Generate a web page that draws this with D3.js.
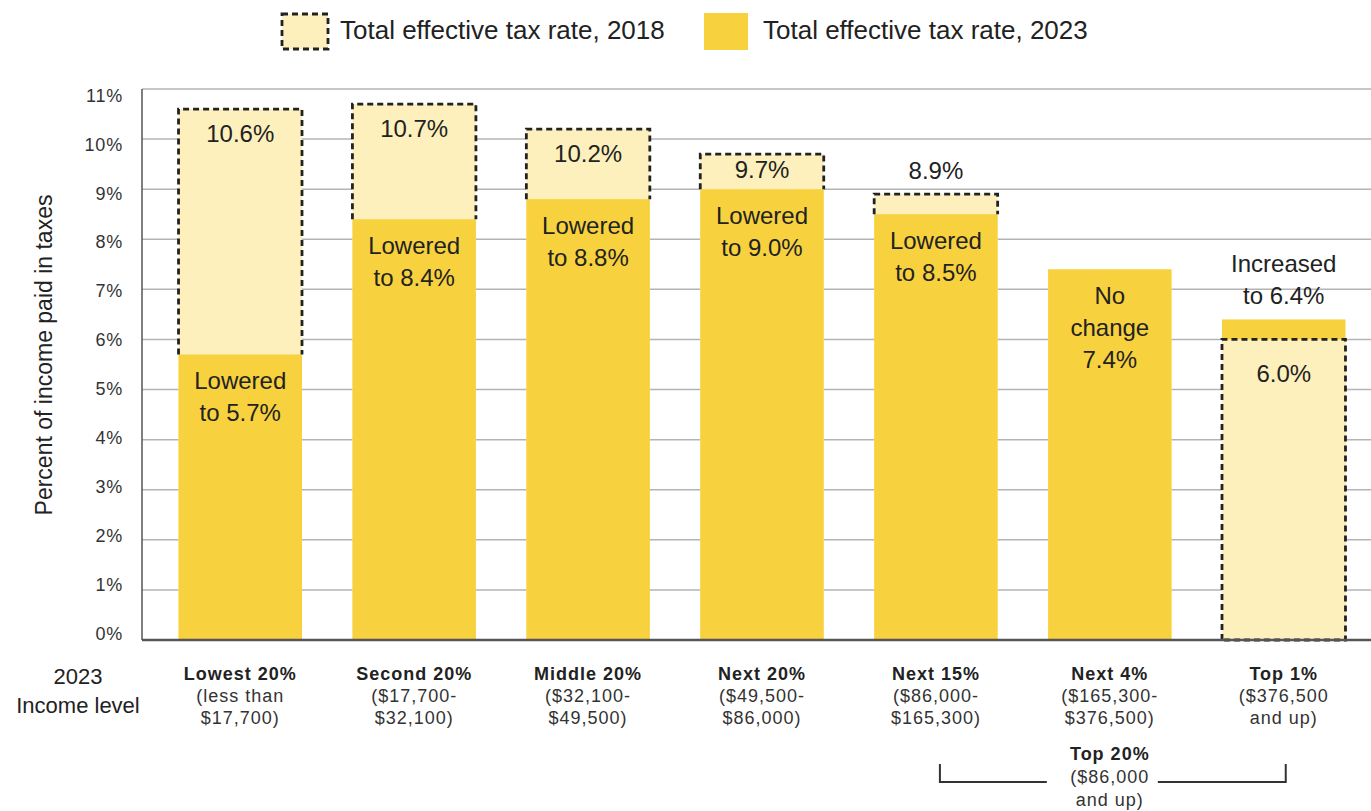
<!DOCTYPE html>
<html>
<head>
<meta charset="utf-8">
<script src="https://cdn.jsdelivr.net/npm/d3@7"></script>
<style>
  body { margin: 0; background: #fff; }
  svg { font-family: "Liberation Sans", Arial, sans-serif; display: block; }
</style>
</head>
<body>
<div id="chart"></div>
<script>
// Data
const groups = ["Lowest 20%", "Second 20%", "Middle 20%", "Next 20%", "Next 15%", "Next 4%", "Top 1%"];
const ranges = [
  ["(less than", "$17,700)"],
  ["($17,700-", "$32,100)"],
  ["($32,100-", "$49,500)"],
  ["($49,500-", "$86,000)"],
  ["($86,000-", "$165,300)"],
  ["($165,300-", "$376,500)"],
  ["($376,500", "and up)"]
];
const rate2018 = [10.6, 10.7, 10.2, 9.7, 8.9, 7.4, 6.0];
const rate2023 = [5.7, 8.4, 8.8, 9.0, 8.5, 7.4, 6.4];
const yTicks = [0, 1, 2, 3, 4, 5, 6, 7, 8, 9, 10, 11];
const bracketGroups = ["Next 15%", "Top 1%"];
const bracketLabel = ["Top 20%", "($86,000", "and up)"];

const data = groups.map((g, i) => ({ group: g, range: ranges[i], v18: rate2018[i], v23: rate2023[i] }));

// Dimensions
const width = 1371;
const height = 811;
const dark = "#f8d23e";
const light = "#fdf0bc";
const ink = "#222";

const svg = d3.select("#chart")
  .append("svg")
    .attr("width", width)
    .attr("height", height);

const x = d3.scaleBand()
  .domain(groups)
  .range([142, 1382])
  .paddingInner(0.29)
  .paddingOuter(0.21);

const y = d3.scaleLinear()
  .domain([0, 11])
  .range([640, 89]);

// tick labels sit on a slightly tighter scale in the original
const yLabel = d3.scaleLinear()
  .domain([0, 11])
  .range([635, 97]);

// Gridlines
svg.append("g")
  .selectAll("line")
  .data(yTicks.filter(t => t > 0))
  .join("line")
    .attr("x1", 142)
    .attr("x2", width)
    .attr("y1", d => y(d))
    .attr("y2", d => y(d))
    .attr("stroke", "#b4b4b4")
    .attr("stroke-width", 1.5);

// Tick labels
svg.append("g")
  .attr("fill", "#333")
  .attr("font-size", 18)
  .attr("letter-spacing", 0.8)
  .attr("text-anchor", "end")
  .attr("dominant-baseline", "middle")
  .selectAll("text")
  .data(yTicks)
  .join("text")
    .attr("x", 123)
    .attr("y", d => yLabel(d))
    .text(d => d + "%");

svg.append("text")
  .attr("transform", `translate(46, 355) rotate(-90)`)
  .attr("text-anchor", "middle")
  .attr("dominant-baseline", "middle")
  .attr("font-size", 23)
  .attr("fill", ink)
  .text("Percent of income paid in taxes");

// Bars: larger value behind, smaller in front
const bars = svg.append("g")
  .selectAll("g")
  .data(data)
  .join("g");

const back = d => d.v18 >= d.v23 ? { v: d.v18, fill: light } : { v: d.v23, fill: dark };
const front = d => d.v18 >= d.v23 ? { v: d.v23, fill: dark } : { v: d.v18, fill: light };

bars.append("rect")
  .attr("x", d => x(d.group))
  .attr("width", x.bandwidth())
  .attr("y", d => y(back(d).v))
  .attr("height", d => y(0) - y(back(d).v))
  .attr("fill", d => back(d).fill);

bars.append("rect")
  .attr("x", d => x(d.group))
  .attr("width", x.bandwidth())
  .attr("y", d => y(front(d).v))
  .attr("height", d => y(0) - y(front(d).v))
  .attr("fill", d => front(d).fill);

// Dashed outline of 2018 bar
bars.filter(d => d.v18 !== d.v23)
  .append("path")
    .attr("d", d => {
      const x0 = x(d.group), x1 = x0 + x.bandwidth();
      const top = y(d.v18);
      const bottom = d.v18 > d.v23 ? y(d.v23) : y(0);
      return d.v18 > d.v23
        ? `M${x0},${bottom}V${top}H${x1}V${bottom}`
        : `M${x0},${bottom}V${top}H${x1}V${bottom}Z`;
    })
    .attr("fill", "none")
    .attr("stroke", ink)
    .attr("stroke-width", 2.8)
    .attr("stroke-dasharray", "6 4");

// Bar labels
const label2023 = d => {
  const v = d.v23.toFixed(1) + "%";
  if (d.v23 < d.v18) return ["Lowered", "to " + v];
  if (d.v23 === d.v18) return ["No", "change", v];
  return ["Increased", "to " + v];
};
const label2018 = d => [d.v18.toFixed(1) + "%"];
const lineH = 32;

bars.each(function(d) {
  const g = d3.select(this);
  const cx = x(d.group) + x.bandwidth() / 2;
  const is18Back = d.v18 > d.v23;
  const equal = d.v18 === d.v23;
  const frontLines = is18Back || equal ? label2023(d) : label2018(d);
  const backLines = is18Back ? label2018(d) : label2023(d);
  const yFront = y(Math.min(d.v18, d.v23));
  const yBack = y(Math.max(d.v18, d.v23));

  const put = (lines, y0) => {
    lines.forEach((t, i) => {
      g.append("text")
        .attr("x", cx)
        .attr("y", y0 + i * lineH)
        .attr("text-anchor", "middle")
        .attr("dominant-baseline", "middle")
        .attr("font-size", 24)
        .attr("fill", ink)
        .text(t);
    });
  };

  put(frontLines, yFront + (is18Back || equal ? 28 : 36));
  if (equal) return;
  const gap = yFront - yBack;
  if (gap > 30) {
    put(backLines, Math.min(yBack + 27, (yBack + yFront) / 2));
  } else {
    put(backLines, yBack - 22 - (backLines.length - 1) * lineH);
  }
});

// Frame
svg.append("line")
  .attr("x1", 142).attr("x2", 142)
  .attr("y1", y(11)).attr("y2", y(0))
  .attr("stroke", "#555").attr("stroke-width", 1.5);
svg.append("line")
  .attr("x1", 142).attr("x2", width)
  .attr("y1", y(0)).attr("y2", y(0))
  .attr("stroke", "#555").attr("stroke-width", 2.5);

// Category labels
const cats = svg.append("g")
  .attr("text-anchor", "middle")
  .attr("letter-spacing", 1)
  .selectAll("g")
  .data(data)
  .join("g")
    .attr("transform", d => `translate(${x(d.group) + x.bandwidth() / 2}, 0)`);
cats.append("text")
  .attr("y", 675)
  .attr("dominant-baseline", "middle")
  .attr("font-size", 18)
  .attr("font-weight", "bold")
  .attr("fill", ink)
  .text(d => d.group);
cats.each(function(d) {
  d3.select(this).selectAll(".rng")
    .data(d.range)
    .join("text")
      .attr("class", "rng")
      .attr("y", (t, i) => 697 + i * 22)
      .attr("dominant-baseline", "middle")
      .attr("font-size", 18)
      .attr("fill", "#333")
      .text(t => t);
});

svg.append("g")
  .attr("text-anchor", "middle")
  .attr("font-size", 22)
  .attr("fill", ink)
  .selectAll("text")
  .data(["2023", "Income level"])
  .join("text")
    .attr("x", 78)
    .attr("y", (t, i) => 678 + i * 29)
    .attr("dominant-baseline", "middle")
    .text(t => t);

// Top 20% bracket
const bx0 = x(bracketGroups[0]) + x.bandwidth() / 2 + 4;
const bx1 = x(bracketGroups[1]) + x.bandwidth() / 2 + 2;
const bmid = x("Next 4%") + x.bandwidth() / 2;
const bracket = svg.append("g")
  .attr("fill", "none")
  .attr("stroke", "#333")
  .attr("stroke-width", 2);
bracket.append("path").attr("d", `M${bx0},764V782H${bmid - 63}`);
bracket.append("path").attr("d", `M${bmid + 48},782H${bx1}V764`);
svg.append("g")
  .attr("text-anchor", "middle")
  .attr("letter-spacing", 1)
  .selectAll("text")
  .data(bracketLabel)
  .join("text")
    .attr("x", bmid)
    .attr("y", (t, i) => 755 + i * 23)
    .attr("dominant-baseline", "middle")
    .attr("font-size", 18)
    .attr("font-weight", (t, i) => i === 0 ? "bold" : "normal")
    .attr("fill", (t, i) => i === 0 ? ink : "#333")
    .text(t => t);

// Legend
const legend = svg.append("g");
legend.append("rect")
  .attr("x", 282).attr("y", 14).attr("width", 46).attr("height", 35)
  .attr("fill", light)
  .attr("stroke", ink).attr("stroke-width", 2.8).attr("stroke-dasharray", "6 4");
legend.append("text")
  .attr("x", 340).attr("y", 32)
  .attr("dominant-baseline", "middle")
  .attr("font-size", 26).attr("fill", ink)
  .text("Total effective tax rate, 2018");
legend.append("rect")
  .attr("x", 704).attr("y", 13).attr("width", 44).attr("height", 37)
  .attr("fill", dark);
legend.append("text")
  .attr("x", 763).attr("y", 32)
  .attr("dominant-baseline", "middle")
  .attr("font-size", 26).attr("fill", ink)
  .text("Total effective tax rate, 2023");
</script>
</body>
</html>
